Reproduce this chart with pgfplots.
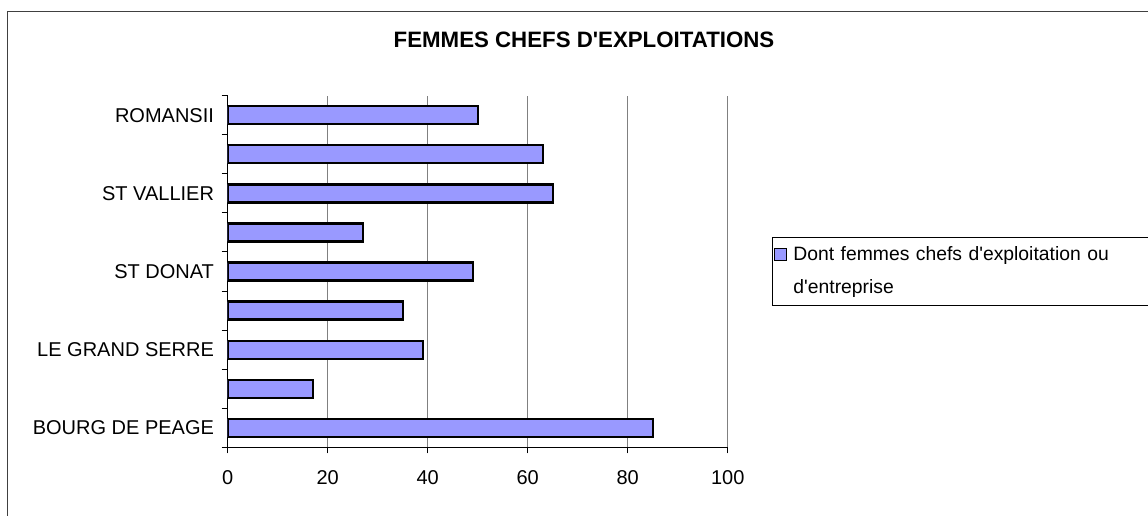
\documentclass[border=0pt]{standalone}
\usepackage{fontspec}
\setmainfont{Liberation Sans}
\usepackage{pgfplots}
\pgfplotsset{compat=1.18}
\definecolor{barfill}{HTML}{9999FF}
\definecolor{gridgray}{HTML}{808080}
\definecolor{framegray}{HTML}{404040}

\begin{document}
\begin{tikzpicture}
\useasboundingbox (0pt,0pt) rectangle (861pt,387pt);
\clip (0pt,0pt) rectangle (861pt,387pt);
\fill[white] (0pt,0pt) rectangle (861pt,387pt);
\draw[line width=0.75pt, color=framegray] (5.5pt,-10pt) rectangle (880pt,378.2pt);
\node[font=\fontsize{16.7}{20}\selectfont\bfseries, inner sep=0pt] at (438pt,357pt) {FEMMES CHEFS D\textquotesingle EXPLOITATIONS};
\begin{axis}[
  at={(170.8pt,51.5pt)}, anchor=south west,
  width=375pt, height=263.7pt, scale only axis,
  xmin=0, xmax=100, ymin=-0.5, ymax=8.5,
  xbar, bar width=13.5pt,
  axis x line*=bottom, axis y line*=left,
  axis line style={-, black, line width=0.75pt},
  xtick={0,20,...,100},
  xmajorgrids=true,
  grid style={gridgray, line width=0.75pt},
  tick align=outside,
  major tick length=4.5pt,
  tick style={black, line width=0.75pt},
  ytick={-0.5,0.5,...,8.5},
  yticklabels={},
  extra y ticks={0,1,2,3,4,5,6,7,8},
  extra y tick labels={BOURG DE PEAGE,{},LE GRAND SERRE,{},ST DONAT,{},ST VALLIER,{},ROMANSII},
  extra y tick style={tick style={draw=none}, grid=none},
  yticklabel style={font=\fontsize{15}{18}\selectfont, xshift=-2.3pt},
  xticklabel style={font=\fontsize{15}{18}\selectfont, yshift=-9.5pt},
  /pgf/number format/assume math mode=true,
  legend style={at={(1,0.5)}, anchor=west, xshift=33.2pt, yshift=12.5pt,
    draw=none, fill=none,
    font=\fontsize{14.5}{24.5}\selectfont,
    inner xsep=1.5pt, inner ysep=2pt, column sep=0pt,
    cells={anchor=base west},
    nodes={text width=300pt, align=left, inner xsep=4.5pt, inner ysep=3pt}},
  legend image code/.code={\draw[#1, line width=0.9pt] (0pt,0pt) rectangle (9pt,9pt);},
]
\addplot[fill=barfill, draw=black, line width=1.7pt] coordinates {
  (85,0) (17,1) (39,2) (35,3) (49,4) (27,5) (65,6) (63,7) (50,8)
};
\addlegendentry{Dont femmes chefs d\textquotesingle exploitation ou\\d\textquotesingle entreprise}
\end{axis}
\draw[line width=0.75pt, color=black] (579pt,157.5pt) rectangle (880pt,208.7pt);
\end{tikzpicture}
\end{document}
